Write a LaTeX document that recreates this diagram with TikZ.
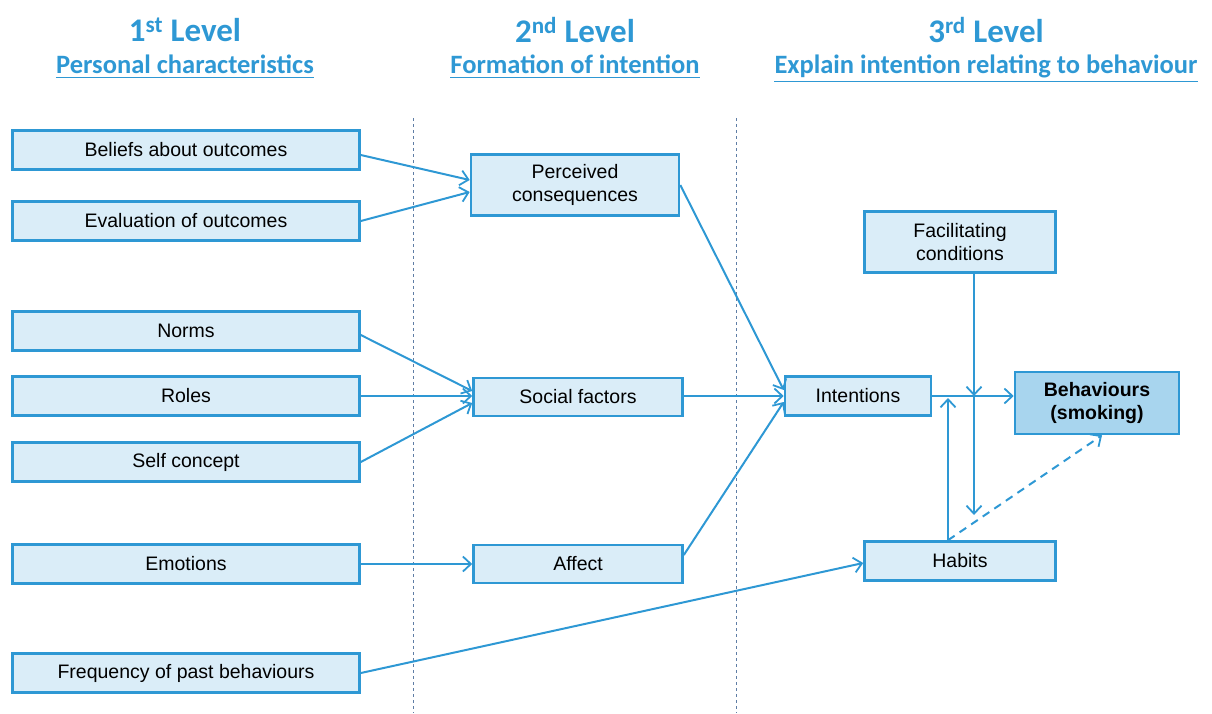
\documentclass[tikz,border=0pt]{standalone}
\usepackage{fontspec}
\setmainfont{Liberation Sans}
\newfontfamily\headfont{Carlito}
\usetikzlibrary{arrows.meta,calc}

\definecolor{lineblue}{RGB}{46,152,212}
\definecolor{boxfill}{RGB}{218,237,248}
\definecolor{behfill}{RGB}{168,213,238}
\definecolor{divgray}{RGB}{95,125,165}

\tikzset{
  box/.style={draw=lineblue, fill=boxfill, line width=2.6pt, inner sep=0pt,
    align=center, font=\fontsize{19.5}{23}\selectfont},
  conn/.style={draw=lineblue, line width=2pt, -{Straight Barb[length=8pt,width=15pt,line width=1.8pt]}},
  head/.style={text=lineblue, font=\headfont\bfseries\fontsize{33}{36}\selectfont},
  subhead/.style={text=lineblue, font=\headfont\bfseries\fontsize{26.5}{28}\selectfont, inner sep=0pt}
}

\begin{document}
\begin{tikzpicture}[x=1pt, y=-1pt]
	\useasboundingbox (0,0) rectangle (1212,713);

	% Level headers
	\foreach \x/\lvl/\sub/\nm in {185/1\textsuperscript{st}/Personal characteristics/s1,
	    575/2\textsuperscript{nd}/Formation of intention/s2,
	    986/3\textsuperscript{rd}/Explain intention relating to behaviour/s3} {
		\node[head] (h\nm) at (\x, 30) {\lvl\ Level};
		\node[subhead, anchor=base] (\nm) at (\x, 73) {\sub};
		\draw[lineblue, line width=1.6pt] ([yshift=-4pt]\nm.south west) -- ([yshift=-4pt]\nm.south east);
	}

	% Dividers
	\draw[divgray, dashed, line width=0.6pt] (413, 118) -- (413, 713);
	\draw[divgray, dashed, line width=0.6pt] (736, 118) -- (736, 713);

	% 1st level
	\node[box, minimum width=347pt, minimum height=39pt] (bel) at (186, 150) {Beliefs about outcomes};
	\node[box, minimum width=347pt, minimum height=39pt] (eva) at (186, 221) {Evaluation of outcomes};
	\node[box, minimum width=347pt, minimum height=39pt] (nor) at (186, 331) {Norms};
	\node[box, minimum width=347pt, minimum height=39pt] (rol) at (186, 396) {Roles};
	\node[box, minimum width=347pt, minimum height=39pt] (sel) at (186, 462) {Self concept};
	\node[box, minimum width=347pt, minimum height=39pt] (emo) at (186, 564) {Emotions};
	\node[box, minimum width=347pt, minimum height=39pt] (fre) at (186, 673) {Frequency of past behaviours};

	% 2nd level
	\node[box, minimum width=208pt, minimum height=61pt] (per) at (575, 185) {Perceived\\consequences};
	\node[box, minimum width=209pt, minimum height=38pt] (soc) at (578, 397) {Social factors};
	\node[box, minimum width=209pt, minimum height=38pt] (aff) at (578, 564) {Affect};

	% 3rd level
	\node[box, minimum width=146pt, minimum height=39pt] (int) at (858, 396) {Intentions};
	\node[box, minimum width=191pt, minimum height=61pt] (fac) at (960, 242) {Facilitating\\conditions};
	\node[box, minimum width=191pt, minimum height=39pt] (hab) at (960, 561) {Habits};
	\node[box, fill=behfill, minimum width=164pt, minimum height=62pt, font=\fontsize{19.5}{23}\selectfont\bfseries] (beh) at (1097, 403) {Behaviours\\(smoking)};

	\coordinate (cross) at (974, 396);
	\coordinate (down) at (974, 515);
	\coordinate (up) at (948, 398);

	% Arrows into 2nd level
	\draw[conn] ([yshift=-5pt]bel.east) -- ([yshift=5pt]per.west);
	\draw[conn] (eva.east) -- ([yshift=-7pt]per.west);
	\draw[conn] ([yshift=-4pt]nor.east) -- ([yshift=6pt]soc.west);
	\draw[conn] (rol.east) -- (rol.east -| soc.west);
	\draw[conn] (sel.east) -- ([yshift=-6pt]soc.west);
	\draw[conn] (emo.east) -- (aff.west);

	% Arrows into 3rd level
	\draw[conn] (per.east) -- ([yshift=6pt]int.west);
	\draw[conn] (soc.east |- int.west) -- (int.west);
	\draw[conn] ([yshift=9pt]aff.east) -- ([yshift=-6pt]int.west);
	\draw[conn] (fre.east) -- ([yshift=-2pt]hab.west);
	\draw[conn] (int.east) -- (int.east -| beh.west);
	\draw[conn] (fac.south -| cross) -- (cross);
	\draw[conn] (cross) -- (down);
	\draw[conn] (hab.north -| up) -- (up);
	\draw[conn, dash pattern=on 8pt off 6pt] (hab.north -| up) -- ([xshift=5pt]beh.south);
\end{tikzpicture}
\end{document}
